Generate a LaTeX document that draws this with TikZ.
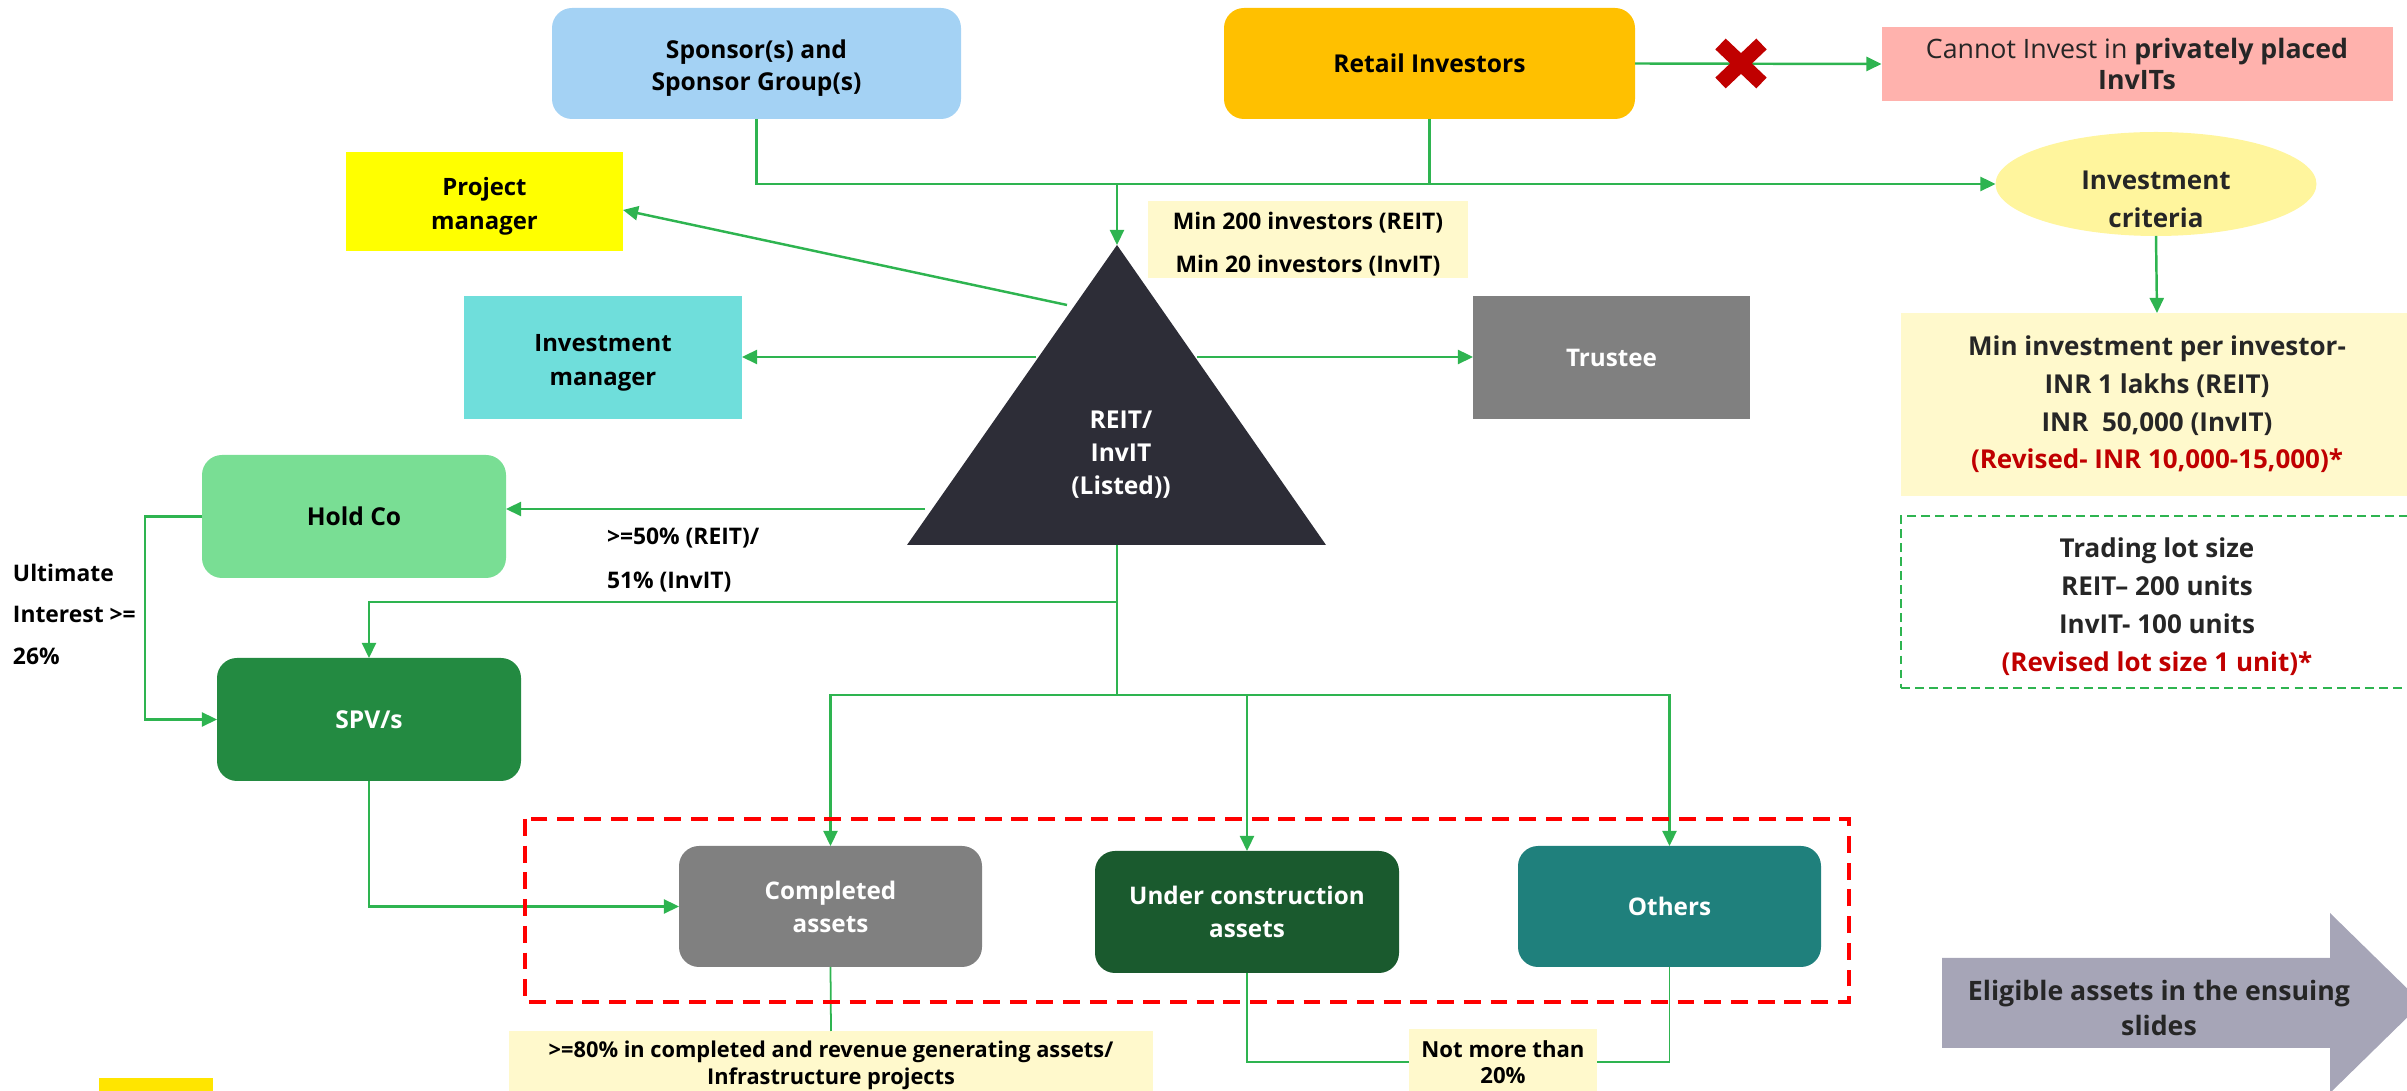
\documentclass[tikz,border=0pt]{standalone}
\usepackage{fontspec}
\setmainfont{Open Sans}
\usetikzlibrary{shapes.geometric,arrows.meta,calc}
\definecolor{cgreen}{RGB}{46,180,80}
\definecolor{csponsor}{RGB}{164,210,244}
\definecolor{cretail}{RGB}{255,192,0}
\definecolor{cpink}{RGB}{255,178,173}
\definecolor{ccrit}{RGB}{255,245,157}
\definecolor{clight}{RGB}{255,249,204}
\definecolor{cyel}{RGB}{255,255,0}
\definecolor{ccyan}{RGB}{111,222,219}
\definecolor{ctri}{RGB}{45,45,55}
\definecolor{cgray}{RGB}{128,128,128}
\definecolor{chold}{RGB}{121,222,148}
\definecolor{cspv}{RGB}{35,138,65}
\definecolor{cunder}{RGB}{26,90,46}
\definecolor{cothers}{RGB}{31,128,124}
\definecolor{cgold}{RGB}{255,229,0}
\definecolor{carrow}{RGB}{166,165,183}
\definecolor{cdark}{RGB}{38,38,38}
\definecolor{cred}{RGB}{192,0,0}
\definecolor{cdashred}{RGB}{255,0,0}
\newcommand\myfs[2]{\fontsize{#1}{#2}\selectfont}
\newcommand\tstrut[1]{\rule{0pt}{#1}}
\begin{document}
\begin{tikzpicture}[x=0.1mm,y=-0.1mm,
  base/.style={inner sep=0pt, outer sep=0pt, align=center, font=\bfseries\myfs{6.9}{9.4}},
  box/.style={base, rectangle},
  rbox/.style={base, rectangle, rounded corners=2mm},
  conn/.style={draw=cgreen, line width=0.7pt},
  thinconn/.style={draw=cgreen, line width=0.5pt},
  arr/.style={conn, -{Triangle[length=4.3pt,width=4pt]}},
]
\useasboundingbox (0,0) rectangle (2407,1091);

% triangle
\coordinate (apex) at (1117,245);
\coordinate (bR) at (1326,545);
\coordinate (bL) at (907,545);
\coordinate (tbase) at (1117,545);
\coordinate (tpm) at (1067,305);
\coordinate (tim) at (1036,357);
\coordinate (ttr) at (1197,357);
\coordinate (tho) at (925,509);
\fill[ctri] (apex) -- (bR) -- (bL) -- cycle;
\node[base, text=white, font=\bfseries\myfs{7}{9.4}] (reit) at (1121,455) {REIT/\\InvIT\\(Listed))};

% top row
\node[rbox, fill=csponsor, minimum width=40.9mm, minimum height=11.1mm, font=\bfseries\myfs{7}{9.1}] (sponsor) at (756.5,63.5) {\tstrut{8pt}Sponsor(s) and\\Sponsor Group(s)};
\node[rbox, fill=cretail, minimum width=41.1mm, minimum height=11.1mm, font=\bfseries\myfs{7}{9.1}] (retail) at (1429.5,63.5) {Retail Investors};
\node[box, fill=cpink, minimum width=51.1mm, minimum height=7.4mm, text=cdark, font=\myfs{7.6}{9.1}] (cannot) at (2137,64) {Cannot Invest in \textbf{privately placed}\\\textbf{InvITs}};
\node[ellipse, fill=ccrit, minimum width=32.1mm, minimum height=10.4mm, inner sep=0pt, outer sep=0pt] (criteria) at (2156,184) {};
\node[base, text=cdark, font=\bfseries\myfs{7.4}{10.8}] (critT) at (2156,199) {Investment\\criteria};
\node[box, fill=clight, minimum width=32mm, minimum height=7.7mm, font=\bfseries\myfs{6.5}{12}] (minreq) at (1308,239.5) {\tstrut{7.6pt}Min 200 investors (REIT)\\Min 20 investors (InvIT)};

% side boxes
\node[box, fill=cyel, minimum width=27.7mm, minimum height=9.9mm, font=\bfseries\myfs{6.8}{9.6}] (pm) at (484.5,201.5) {\tstrut{7.9pt}Project\\manager};
\node[box, fill=ccyan, minimum width=27.8mm, minimum height=12.3mm, font=\bfseries\myfs{6.8}{9.6}] (im) at (603,357.5) {\tstrut{7.9pt}Investment\\manager};
\node[box, fill=cgray, text=white, minimum width=27.7mm, minimum height=12.3mm] (trustee) at (1611.5,357.5) {Trustee};
\node[rbox, fill=chold, minimum width=30.4mm, minimum height=12.3mm, font=\bfseries\myfs{7}{9.4}] (holdco) at (354,516.5) {Hold Co};
\node[rbox, fill=cspv, text=white, minimum width=30.4mm, minimum height=12.3mm, font=\bfseries\myfs{7}{9.4}] (spv) at (369,719.5) {SPV/s};
\node[base, anchor=west, align=left, font=\bfseries\myfs{6.5}{11.8}] (ultimate) at (13,614) {Ultimate\\Interest >=\\26\%};
\node[base, anchor=west, align=left, font=\bfseries\myfs{6.5}{12.5}] (pct) at (607,560) {>=50\% (REIT)/\\51\% (InvIT)};

% assets
\node[rbox, fill=cgray, text=white, minimum width=30.3mm, minimum height=12.1mm] (completed) at (830.5,906.5) {Completed\\assets};
\node[rbox, fill=cunder, text=white, minimum width=30.4mm, minimum height=12.2mm] (under) at (1247,912) {Under construction\\assets};
\node[rbox, fill=cothers, text=white, minimum width=30.3mm, minimum height=12.1mm] (others) at (1669.5,906.5) {Others};
\node[box, fill=clight, minimum width=64.4mm, minimum height=6.8mm, font=\bfseries\myfs{6.2}{7.7}] (eighty) at (831,1065) {>=80\% in completed and revenue generating assets/\\Infrastructure projects};
\node[box, fill=clight, minimum width=18.8mm, minimum height=6.6mm, font=\bfseries\myfs{6.3}{7.4}] (notmore) at (1503,1062) {Not more than\\20\%};

% right column
\node[box, fill=clight, minimum width=51.2mm, minimum height=18.3mm, text=cdark, font=\bfseries\myfs{7.4}{10.7}] (mininv) at (2157,404.5) {Min investment per investor-\\INR 1 lakhs (REIT)\\INR\ \ 50,000 (InvIT)\\\textcolor{cred}{(Revised- INR 10,000-15,000)*}};
\node[box, draw=cgreen, line width=0.45pt, dash pattern=on 2.5pt off 1.5pt, minimum width=51.2mm, minimum height=17.2mm, text=cdark, font=\bfseries\myfs{7.4}{10.8}] (lot) at (2157,602) {\tstrut{8.3pt}Trading lot size\\REIT– 200 units\\InvIT- 100 units\\\textcolor{cred}{(Revised lot size 1 unit)*}};

% big arrow
\fill[carrow] (1942,958) -- (2330,958) -- (2330,913) -- (2422,1003) -- (2330,1093) -- (2330,1048) -- (1942,1048) -- cycle;
\node[base, text=cdark, font=\bfseries\myfs{7.6}{10.2}] (elig) at (2159,1008) {Eligible assets in the ensuing\\slides};

% small yellow bar
\fill[cgold] (99,1078) rectangle (213,1095);

% connectors
\coordinate (j1) at (retail.south |- criteria.west);
\coordinate (j0) at (apex |- j1);
\draw[conn] (sponsor.south) |- (j1);
\draw[conn] (retail.south) -- (j1);
\draw[arr] (j1) -- (criteria.west);
\draw[arr] (j0) -- (apex);
\draw[arr] (retail.east) -- (cannot.west);
\draw[arr] (criteria.south) -- (mininv.north);
\draw[arr] (tpm) -- ([yshift=-0.85mm]pm.east);
\draw[arr] (tim) -- (tim -| im.east);
\draw[arr] (ttr) -- (ttr -| trustee.west);
\draw[arr] (tho) -- (tho -| holdco.east);
\coordinate (j2) at (1117,602);
\coordinate (j3) at (1117,695);
\draw[arr] (tbase) -- (j2) -| (spv.north);
\draw[conn] (j2) -- (j3);
\draw[arr] (j3) -| (completed.north);
\draw[arr] (j3) -| (under.north);
\draw[arr] (j3) -| (others.north);
\draw[arr] (holdco.west) -- ++(-57,0) |- (spv.west);
\draw[arr] (spv.south) |- (completed.west);
\draw[thinconn] (completed.south) -- (eighty.north);
\draw[thinconn] (under.south) |- (notmore.west);
\draw[thinconn] (notmore.east) -| (others.south);

% red dashed group
\draw[cdashred, line width=1.1pt, dash pattern=on 4.8pt off 2.8pt] (525,819) rectangle (1849,1002);

% red X
\draw[cred, line width=1.5mm] (1720.5,44) -- (1761.5,83) (1761.5,44) -- (1720.5,83);
\end{tikzpicture}
\end{document}
